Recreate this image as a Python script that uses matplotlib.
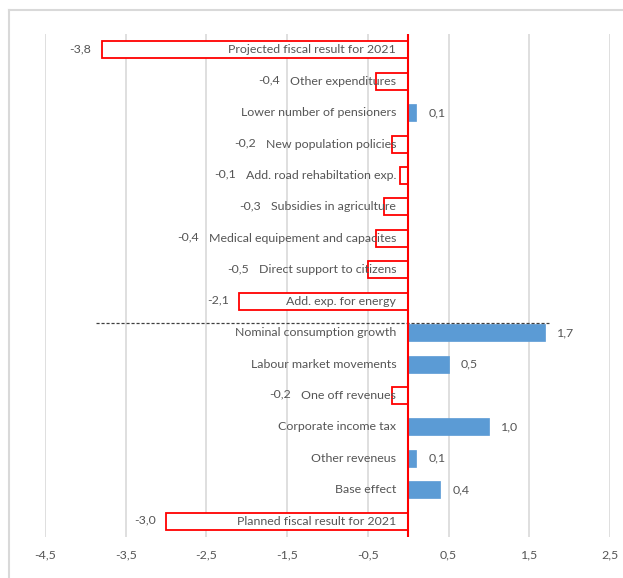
import matplotlib
matplotlib.use("Agg")
import matplotlib.pyplot as plt
from matplotlib.lines import Line2D

categories = [
    "Projected fiscal result for 2021",
    "Other expenditures",
    "Lower number of pensioners",
    "New population policies",
    "Add. road rehabiltation exp.",
    "Subsidies in agriculture",
    "Medical equipement and capacites",
    "Direct support to citizens",
    "Add. exp. for energy",
    "Nominal consumption growth",
    "Labour market movements",
    "One off revenues",
    "Corporate income tax",
    "Other reveneus",
    "Base effect",
    "Planned fiscal result for 2021",
]
values = [-3.8, -0.4, 0.1, -0.2, -0.1, -0.3, -0.4, -0.5, -2.1,
          1.7, 0.5, -0.2, 1.0, 0.1, 0.4, -3.0]
x_ticks = [-4.5, -3.5, -2.5, -1.5, -0.5, 0.5, 1.5, 2.5]
separator_span = (-3.87, 1.74)
separator_y = 8.68

TEXT = "#555555"
GRID = "#D9D9D9"
BLUE = "#5B9BD5"
RED = "#FF0000"
FONT = "Lato"
FS = 8.9

fig = plt.figure(figsize=(6.23, 5.78), dpi=100)
W, H = 623, 578
ax = fig.add_axes([45 / W, 1 - 537 / H, (610 - 45) / W, (537 - 34) / H])

n = len(categories)
ypos = list(range(n))

for y, v in zip(ypos, values):
    if v < 0:
        ax.barh(y, v, height=0.54, color="white", edgecolor=RED,
                linewidth=1.3, zorder=3)
    else:
        ax.barh(y, v, height=0.54, color=BLUE, edgecolor=BLUE,
                linewidth=0.5, zorder=3)

ax.set_xlim(x_ticks[0], x_ticks[-1])
ax.set_ylim(n - 0.5, -0.5)
ax.set_xticks(x_ticks)
ax.set_xticklabels([f"{t:.1f}".replace(".", ",") for t in x_ticks],
                   fontsize=FS, color=TEXT, family=FONT)
ax.tick_params(axis="x", length=0, pad=9)
ax.set_yticks([])
ax.grid(axis="x", color=GRID, linewidth=1.2, zorder=0)
ax.set_axisbelow(True)
for s in ax.spines.values():
    s.set_visible(False)

ax.axvline(0, color=RED, linewidth=1.5, zorder=5)
ax.plot(separator_span, [separator_y, separator_y], color="#404040",
        linestyle=(0, (2.5, 1.5)), linewidth=0.9, zorder=4)

# category names sit just left of the zero line
fig.canvas.draw()
renderer = fig.canvas.get_renderer()
to_px = ax.transData
inv = ax.transData.inverted()
zero_px = to_px.transform((0, 0))[0]
cat_texts = []
for y, c in zip(ypos, categories):
    x_data = inv.transform((zero_px - 12, 0))[0]
    t = ax.text(x_data, y, c, ha="right", va="center", fontsize=FS,
                color=TEXT, family=FONT, zorder=6)
    cat_texts.append(t)

fig.canvas.draw()
for y, v, t in zip(ypos, values, cat_texts):
    label = f"{v:.1f}".replace(".", ",")
    bar_px = to_px.transform((v, 0))[0]
    if v >= 0:
        x_data = inv.transform((bar_px + 12, 0))[0]
        ax.text(x_data, y, label, ha="left", va="center", fontsize=FS,
                color=TEXT, family=FONT, zorder=6)
    else:
        left_px = t.get_window_extent(renderer).x0
        anchor = min(bar_px, left_px) - 10
        x_data = inv.transform((anchor, 0))[0]
        ax.text(x_data, y - 0.04, label, ha="right", va="center", fontsize=FS,
                color=TEXT, family=FONT, zorder=6)

# outer chart frame
fig.add_artist(Line2D([9 / W, 1], [1 - 10 / H, 1 - 10 / H], color=GRID,
                      linewidth=1.5, transform=fig.transFigure))
fig.add_artist(Line2D([9 / W, 9 / W], [0, 1 - 10 / H], color=GRID,
                      linewidth=1.5, transform=fig.transFigure))

fig.savefig("out.png", dpi=100)
